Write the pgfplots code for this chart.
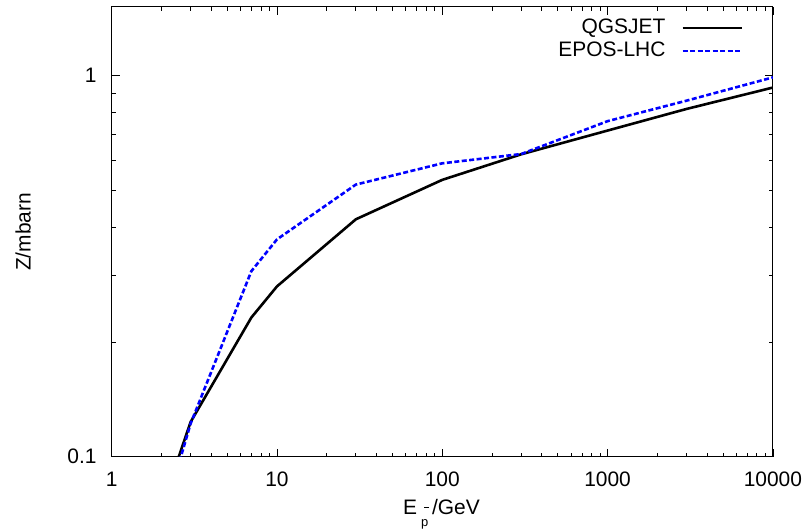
\documentclass[border=0pt]{standalone}
\usepackage{pgfplots}
\pgfplotsset{compat=1.18}
\usepackage{fontspec}
\setmainfont{Liberation Sans}
\begin{document}
\fontsize{21}{25}\selectfont
\begin{tikzpicture}
\begin{axis}[
  scale only axis, width=663pt, height=451pt,
  xmode=log, ymode=log,
  xmin=1, xmax=10000, ymin=0.1, ymax=1.515,
  xtick={1,10,100,1000,10000}, xticklabels={1,10,100,1000,10000},
  ytick={0.1,1}, yticklabels={0.1,1},
  /pgf/number format/assume math mode=true,
  tick label style={font=\fontsize{21}{25}\selectfont},
  xticklabel style={yshift=-8pt},
  yticklabel style={xshift=-8pt},
  label style={font=\fontsize{21}{25}\selectfont},
  axis line style={line width=1pt},
  major tick length=8pt, minor tick length=4pt,
  every tick/.style={black, line width=0.8pt},
  xlabel={E\kern4pt\rlap{\raisebox{-12pt}[0pt][0pt]{\fontsize{13}{13}\selectfont p}}\kern3pt\raisebox{7pt}{\rule{5pt}{1.1pt}}\kern3pt/GeV},
  ylabel={Z/mbarn},
  ylabel style={at={(axis description cs:-0.134,0.5)}, anchor=center},
  xlabel style={at={(axis description cs:0.4404,-0.1286)}, anchor=base west, inner sep=0pt},
  legend style={draw=none, fill=none, at={(rel axis cs:0.9548,0.9745)}, anchor=north east,
    inner sep=0pt, font=\fontsize{21}{25}\selectfont, row sep=4pt, column sep=16pt,
    nodes={inner sep=0pt, text height=15pt, text depth=4pt}},
  legend cell align=right,
  legend plot pos=right,
  legend image code/.code={\draw[#1] (0pt,0pt) -- (59pt,0pt);},
  clip=true,
]
\addplot[black, line width=2.6pt] coordinates {
  (2.5,0.0977) (3,0.1233) (7,0.232) (10,0.28) (30,0.42) (100,0.533) (300,0.622) (1000,0.718) (3000,0.818) (10000,0.931)
};
\addlegendentry{QGSJET}
\addplot[blue, line width=2.6pt, dash pattern=on 5pt off 2.5pt] coordinates {
  (2.5,0.0932) (3,0.122) (7,0.307) (10,0.372) (30,0.518) (100,0.589) (300,0.623) (1000,0.76) (3000,0.86) (10000,0.99)
};
\addlegendentry{EPOS-LHC}
\coordinate (bl) at (rel axis cs:-0.1689,-0.1641);
\coordinate (tr) at (rel axis cs:1.0513,1.0155);
\end{axis}
\path (bl) rectangle (tr);
\end{tikzpicture}
\end{document}
